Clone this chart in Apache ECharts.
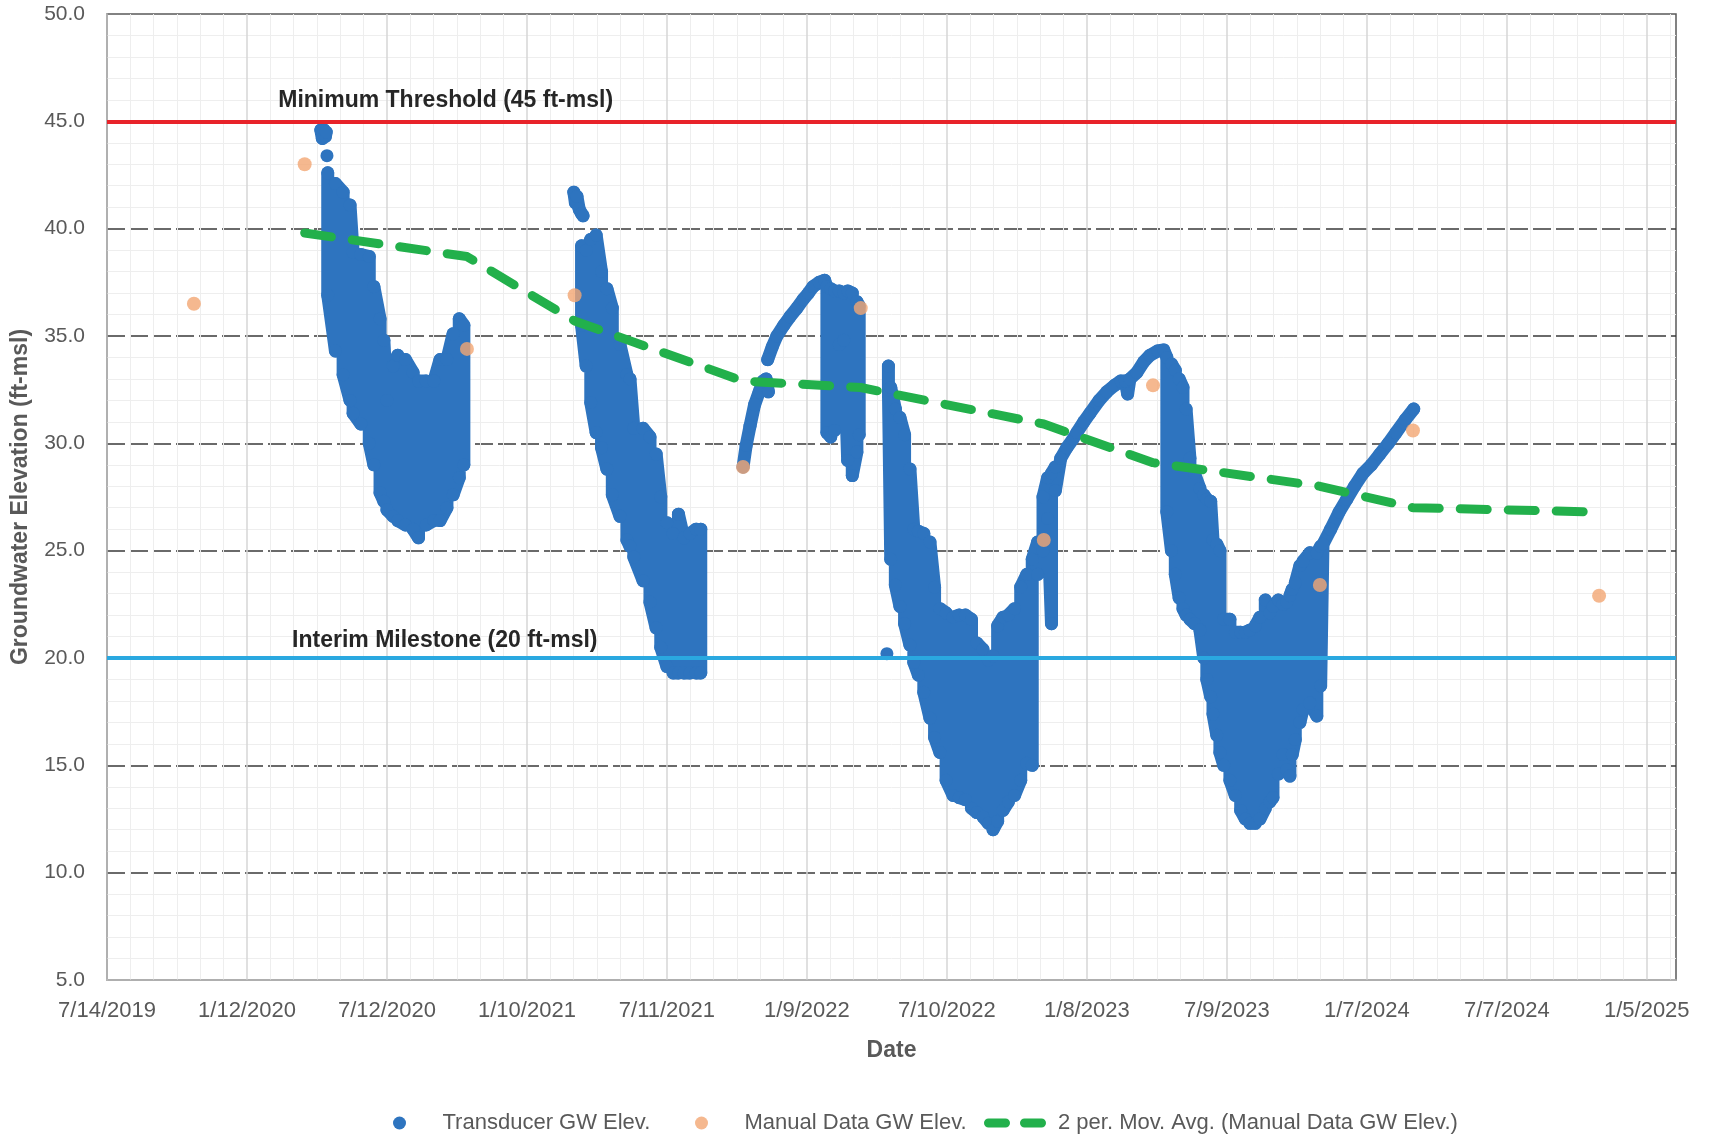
<!DOCTYPE html>
<html>
<head>
<meta charset="utf-8">
<script src="https://cdn.jsdelivr.net/npm/echarts@6/dist/echarts.min.js"></script>
<style>
  html, body { margin: 0; padding: 0; background: #fff; }
  #chart { width: 1710px; height: 1136px; }
</style>
</head>
<body>
<div id="chart"></div>
<script>
  // x values are days since 7/14/2019 (the first tick of the date axis)
  const DAY0 = Date.UTC(2019, 6, 14);
  const xMin = 0, xMax = 2040, xStep = 182;
  const yMin = 5, yMax = 50, yStep = 5;

  // transducer readings: [day, value] or [day, high, low] for the dense daily swings
  const td2020Top = [[278, 44.6], [280, 44.2], [282, 44.6], [284, 44.3], [285, 44.5]];
  const td2020Dot = [[286, 43.4]];
  const td2020 = [
    [287, 42.6, 36.9], [297, 42.1, 34.3], [307, 41.7, 33.2], [316, 41.1, 32.0], [320, 38.9, 31.4],
    [330, 38.8, 30.9], [341, 38.7, 30.0], [347, 37.3, 29.0], [355, 35.8, 27.7], [360, 34.8, 27.3],
    [364, 32.0, 26.9], [372, 33.6, 26.6], [378, 34.1, 26.4], [388, 33.9, 26.2], [398, 33.3, 26.0],
    [405, 32.9, 25.6], [415, 32.9, 26.2], [425, 32.9, 26.4], [433, 33.9, 26.4], [442, 33.9, 27.0],
    [450, 35.1, 27.6], [458, 35.8, 28.4], [464, 35.5, 29.0]
  ];
  const td2021Top = [[607, 41.7], [609, 41.2], [611, 41.5], [614, 40.9], [617, 40.7], [619, 40.6]];
  const td2021 = [
    [617, 39.2, 35.5], [623, 39.0, 33.6], [629, 39.5, 31.9], [636, 39.7, 30.5], [643, 38.0, 29.8],
    [650, 37.2, 28.8], [657, 36.3, 27.6], [667, 34.6, 26.6], [676, 33.2, 25.5], [680, 33.0, 25.2],
    [685, 30.7, 24.7], [697, 30.7, 23.6], [706, 30.3, 22.6], [714, 29.5, 21.4], [720, 27.5, 20.5],
    [728, 26.3, 19.6], [736, 25.8, 19.3], [743, 26.7, 19.3], [750, 25.6, 19.3], [758, 25.8, 19.3],
    [766, 26.0, 19.3], [772, 26.0, 19.3]
  ];
  const td2021ArcA = [[827, 28.9], [831, 29.9], [836, 30.8], [842, 31.8], [848, 32.4], [853, 32.9], [857, 33.0], [860, 32.4]];
  const td2021ArcB = [
    [859, 33.9], [865, 34.5], [871, 35.0], [880, 35.5], [888, 35.9], [897, 36.3], [905, 36.7],
    [912, 37.0], [918, 37.3], [926, 37.5], [933, 37.6],
    [936, 37.3, 30.5], [941, 37.2, 30.3], [946, 37.1, 30.6], [952, 37.1, 34.6], [958, 37.0, 34.8],
    [963, 37.1, 29.2], [969, 37.0, 28.5], [975, 36.6, 29.6], [978, 36.4, 30.4]
  ];
  const td2022Dot = [[1014, 20.2]];
  const td2022 = [
    [1016, 33.6, 32.5], [1019, 32.6, 24.6], [1025, 31.6, 23.4], [1031, 31.2, 22.4], [1037, 30.4, 21.6],
    [1044, 28.8, 20.6], [1049, 26.0, 19.8], [1055, 25.9, 19.2], [1062, 25.8, 18.4], [1070, 25.4, 17.2],
    [1076, 23.3, 16.3], [1083, 22.3, 15.6], [1091, 22.1, 14.3], [1100, 21.9, 13.6], [1108, 22.0, 13.5],
    [1116, 22.0, 13.4], [1124, 21.8, 13.0], [1131, 20.7, 12.8], [1139, 20.4, 12.6], [1146, 19.9, 12.3],
    [1152, 20.1, 12.0], [1158, 21.5, 12.4], [1165, 21.9, 12.9], [1172, 22.0, 13.3], [1180, 22.3, 13.6],
    [1188, 23.3, 14.3], [1196, 23.9, 15.1], [1203, 24.6, 15.0], [1210, 25.4, 23.9], [1217, 27.5, 25.0],
    [1223, 28.4, 26.5], [1228, 28.6, 21.6], [1233, 28.9, 27.8],
    [1240, 29.3], [1248, 29.8], [1256, 30.2], [1261, 30.5], [1270, 31.0], [1278, 31.4], [1290, 32.0],
    [1300, 32.4], [1310, 32.7], [1318, 32.9], [1324, 32.9], [1327, 32.3], [1330, 33.0], [1339, 33.3],
    [1348, 33.8], [1356, 34.1], [1366, 34.3], [1374, 34.35],
    [1378, 34.0, 26.8], [1384, 33.7, 25.0], [1389, 33.4, 23.9], [1394, 33.0, 22.8], [1399, 32.6, 22.3],
    [1403, 31.6, 22.0], [1408, 29.3, 21.8], [1414, 28.6, 21.6], [1421, 27.9, 21.3], [1426, 27.6, 20.0],
    [1430, 27.4, 19.0], [1435, 27.3, 18.2], [1438, 25.5, 17.4], [1443, 25.3, 16.4], [1447, 25.0, 15.6],
    [1452, 21.8, 15.0], [1460, 21.8, 14.3], [1467, 21.2, 13.6], [1474, 21.2, 12.9], [1480, 21.2, 12.5],
    [1486, 21.3, 12.3], [1493, 21.5, 12.3], [1499, 21.9, 12.5], [1506, 22.7, 13.0], [1512, 22.1, 13.3],
    [1516, 22.4, 13.5], [1523, 22.7, 14.6], [1529, 22.5, 15.5], [1534, 22.6, 14.8], [1538, 22.9, 14.5],
    [1541, 23.2, 15.5], [1545, 23.5, 16.2], [1551, 24.3, 17.0], [1555, 24.5, 17.6], [1564, 24.9, 17.9],
    [1573, 24.9, 17.3], [1578, 25.2, 18.7],
    [1581, 25.3], [1591, 26.0], [1602, 26.8], [1612, 27.4], [1622, 28.0], [1633, 28.6], [1644, 29.0],
    [1655, 29.5], [1666, 30.0], [1676, 30.5], [1688, 31.1], [1699, 31.6]
  ];
  const tdSegments = [td2020Top, td2020Dot, td2020, td2021Top, td2021, td2021ArcA, td2021ArcB, td2022Dot, td2022];

  // manual measurements
  const manualDays = [113, 257, 468, 608, 827, 980, 1218, 1360, 1577, 1698, 1940];
  const manualVals = [36.5, 43.0, 34.4, 36.9, 28.9, 36.3, 25.5, 32.7, 23.4, 30.6, 22.9];

  // 2 period moving average of the manual data
  const avgDays = [257, 468, 608, 827, 980, 1218, 1360, 1577, 1698, 1940];
  const avgVals = [39.8, 38.7, 35.7, 32.9, 32.6, 30.9, 29.1, 28.0, 27.0, 26.8];

  const minThreshold = 45, milestone = 20;
  const minLabel = 'Minimum Threshold (45 ft-msl)';
  const mileLabel = 'Interim Milestone (20 ft-msl)';
  const minLabelAt = [222, 45.95];
  const mileLabelAt = [240, 20.8];

  const FONT = "'Liberation Sans', Arial, sans-serif";
  const BLUE = '#2e74bf', ORANGE = '#f3a673', GREEN = '#22b04b';
  const TD_NAME = 'Transducer GW Elev.', MAN_NAME = 'Manual Data GW Elev.';
  const AVG_NAME = '2 per. Mov. Avg. (Manual Data GW Elev.)';
  const PILLS = 'path://M4.5,0H21.5A4.5,4.5,0,0,1,21.5,9H4.5A4.5,4.5,0,0,1,4.5,0ZM40.5,0H57.5A4.5,4.5,0,0,1,57.5,9H40.5A4.5,4.5,0,0,1,40.5,0Z';

  function dayLabel(d) {
    const t = new Date(DAY0 + d * 86400000);
    return (t.getUTCMonth() + 1) + '/' + t.getUTCDate() + '/' + t.getUTCFullYear();
  }

  // columns become up/down strokes so the thick line fills the band
  function segData(rows) {
    const out = [];
    let down = true;
    rows.forEach(r => {
      if (r.length < 3) { out.push([r[0], r[1]]); down = true; return; }
      if (down) { out.push([r[0], r[1]]); out.push([r[0], r[2]]); }
      else { out.push([r[0], r[2]]); out.push([r[0], r[1]]); }
      down = !down;
    });
    return out;
  }

  const series = tdSegments.map(seg => ({
    name: TD_NAME,
    type: 'line',
    data: segData(seg),
    symbol: 'circle',
    symbolSize: 13,
    showSymbol: true,
    showAllSymbol: true,
    color: BLUE,
    itemStyle: { color: BLUE },
    lineStyle: { color: BLUE, width: 13, cap: 'round', join: 'round' },
    silent: true,
    z: 2
  }));

  series.push({
    name: AVG_NAME,
    type: 'line',
    data: avgDays.map((d, i) => [d, avgVals[i]]),
    symbol: 'none',
    color: GREEN,
    itemStyle: { color: GREEN },
    lineStyle: { color: GREEN, width: 9, type: [27, 21], cap: 'round', join: 'round' },
    silent: true,
    z: 3
  });

  series.push({
    name: MAN_NAME,
    type: 'scatter',
    data: manualDays.map((d, i) => [d, manualVals[i]]),
    symbolSize: 14,
    color: ORANGE,
    itemStyle: { color: ORANGE },
    silent: true,
    z: 4,
    markLine: {
      silent: true,
      symbol: ['none', 'none'],
      label: { show: false },
      data: [
        { yAxis: minThreshold, lineStyle: { color: '#e8232a', width: 4, type: 'solid' } },
        { yAxis: milestone, lineStyle: { color: '#2aa8e0', width: 4, type: 'solid' } }
      ]
    },
    markPoint: {
      silent: true,
      symbol: 'rect',
      symbolSize: 1,
      itemStyle: { color: 'rgba(0,0,0,0)' },
      label: {
        show: true, position: 'right', distance: 0,
        color: '#262626', fontSize: 23, fontWeight: 'bold', fontFamily: FONT
      },
      data: [
        { coord: minLabelAt, label: { formatter: minLabel } },
        { coord: mileLabelAt, label: { formatter: mileLabel } }
      ]
    }
  });

  function legendAt(left, name, icon) {
    return {
      left: left, top: 1107,
      itemWidth: 62, itemHeight: 13,
      textStyle: { color: '#595959', fontSize: 22, fontFamily: FONT, padding: [0, 0, 0, 7] },
      selectedMode: false,
      data: [{ name: name, icon: icon }]
    };
  }

  const chart = echarts.init(document.getElementById('chart'));
  chart.setOption({
    animation: false,
    backgroundColor: '#ffffff',
    textStyle: { fontFamily: FONT },
    grid: {
      left: 107, right: 34, top: 14, bottom: 156,
      show: true, borderColor: '#595959', borderWidth: 1.5, backgroundColor: '#ffffff',
      outerBoundsMode: 'none'
    },
    legend: [
      legendAt(388, TD_NAME, 'circle'),
      legendAt(690, MAN_NAME, 'circle'),
      legendAt(979, AVG_NAME, PILLS)
    ],
    xAxis: {
      type: 'value',
      min: xMin, max: xMax, interval: xStep,
      name: 'Date', nameLocation: 'middle', nameGap: 59, nameMoveOverlap: false,
      nameTextStyle: { color: '#595959', fontSize: 23, fontWeight: 'bold', fontFamily: FONT },
      axisLine: { show: true, lineStyle: { color: '#bfbfbf', width: 1.5 } },
      axisTick: { show: false },
      axisLabel: {
        color: '#595959', fontSize: 22, fontFamily: FONT, margin: 20,
        showMaxLabel: false, formatter: v => dayLabel(v)
      },
      splitLine: { show: true, showMaxLine: false, showMinLine: false, lineStyle: { color: '#d6d6d6', width: 1.5 } },
      minorTick: { show: false, splitNumber: 6 },
      minorSplitLine: { show: true, lineStyle: { color: '#eeeeee', width: 1 } }
    },
    yAxis: {
      type: 'value',
      min: yMin, max: yMax, interval: yStep,
      name: 'Groundwater Elevation (ft-msl)', nameLocation: 'middle', nameGap: 75, nameMoveOverlap: false,
      nameTextStyle: { color: '#595959', fontSize: 23, fontWeight: 'bold', fontFamily: FONT },
      axisLine: { show: true, lineStyle: { color: '#bfbfbf', width: 1.5 } },
      axisTick: { show: false },
      axisLabel: { color: '#595959', fontSize: 21, fontFamily: FONT, margin: 22, formatter: v => v.toFixed(1) },
      splitLine: { show: true, showMaxLine: false, showMinLine: false, lineStyle: { color: '#3a3a3a', width: 1.5, type: [18, 5] } },
      minorTick: { show: false, splitNumber: 5 },
      minorSplitLine: { show: true, lineStyle: { color: '#eeeeee', width: 1 } }
    },
    series: series
  });
</script>
</body>
</html>
